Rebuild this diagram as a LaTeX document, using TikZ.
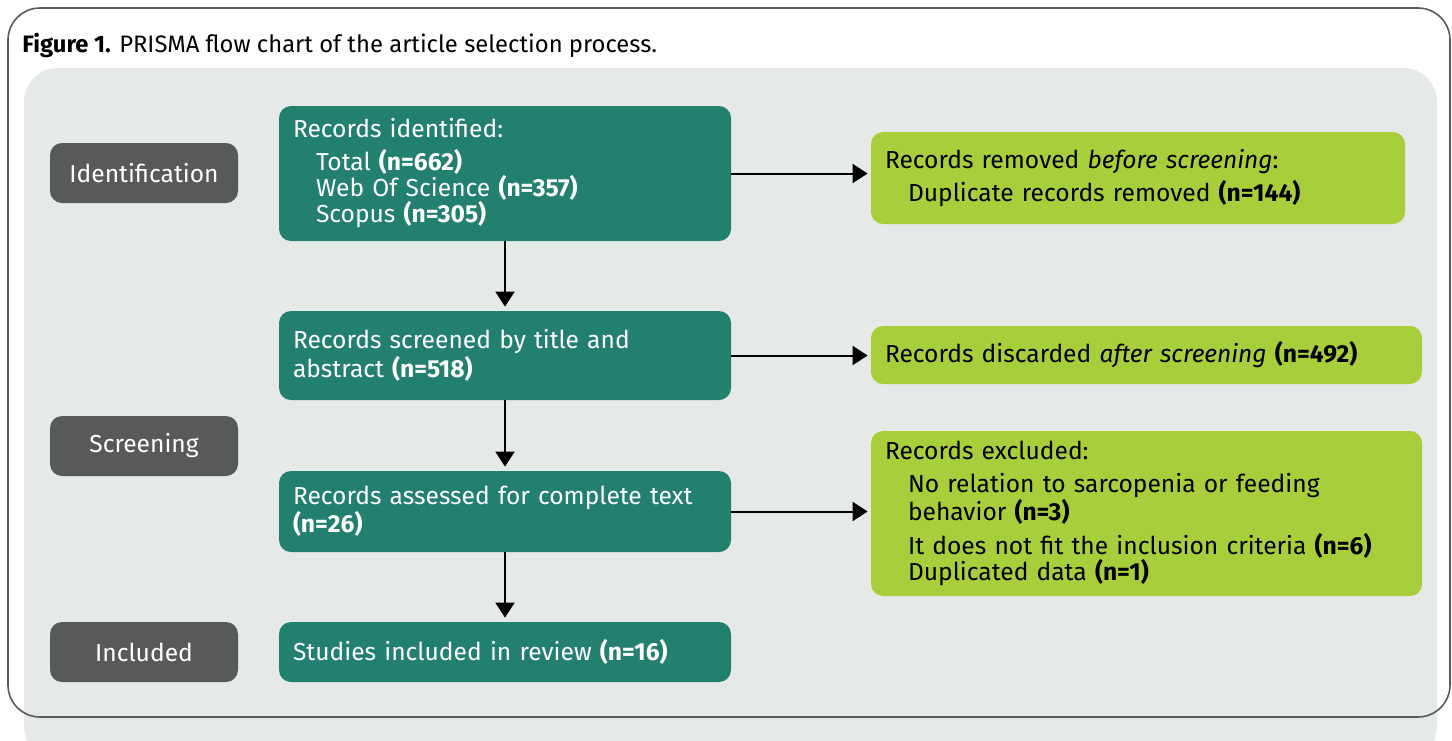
\documentclass[tikz,border=0pt]{standalone}
\usepackage{fontspec}
\setmainfont{Fira Sans}
\usetikzlibrary{arrows.meta}
\definecolor{panelgray}{HTML}{E5E9E8}
\definecolor{framegray}{HTML}{5A5A5A}
\definecolor{stagegray}{HTML}{58595B}
\definecolor{tealbox}{HTML}{23806F}
\definecolor{limebox}{HTML}{A8CE3B}
\begin{document}
\begin{tikzpicture}[x=0.5pt,y=-0.5pt,
        font=\fontsize{12.3}{13}\selectfont,
        stage/.style={fill=stagegray,text=white,rounded corners=6pt,minimum width=94pt,minimum height=30pt,inner sep=0pt},
        tealnode/.style={fill=tealbox,text=white,rounded corners=6pt,align=left,text width=212pt,inner xsep=7pt,inner ysep=0pt},
        limenode/.style={fill=limebox,text=black,rounded corners=6pt,align=left,inner xsep=7pt,inner ysep=0pt},
        flow/.style={-{Triangle[width=9.5pt,length=7.5pt]},line width=1pt}]
            \useasboundingbox (0,0) rectangle (1452,740);
            \begin{scope}
                \clip (0,0) rectangle (1452,740);
                \fill[panelgray,rounded corners=17pt] (24,68) rectangle (1437,760);
                \draw[framegray,line width=0.8pt,rounded corners=16pt] (8,8) rectangle (1450,717);
            \end{scope}

            \node[anchor=west,inner sep=0pt,font=\fontsize{11.9}{13}\selectfont] (title) at (22,45) {\textbf{Figure 1.} PRISMA flow chart of the article selection process.};

            \node[stage] (ident) at (144,173) {Identification};
            \node[stage] (screen) at (144,446) {Screening};
            \node[stage] (incl) at (144,652) {Included};

            \node[tealnode,minimum height=67.5pt] (rec) at (505,173.5) {Records identified:\\[3.5pt]
                \hspace*{11.5pt}Total \textbf{(n=662)}\\
                \hspace*{11.5pt}Web Of Science \textbf{(n=357)}\\
                \hspace*{11.5pt}Scopus \textbf{(n=305)}};
            \node[tealnode,minimum height=44.5pt] (scr) at (505,355.5) {Records screened by title and\\abstract \textbf{(n=518)}};
            \node[tealnode,minimum height=40.5pt] (full) at (505,511.5) {Records assessed for complete text\\\textbf{(n=26)}};
            \node[tealnode,minimum height=30pt] (stud) at (505,652) {Studies included in review \textbf{(n=16)}};

            \node[limenode,text width=253pt,minimum height=46pt] (rem) at (1138,178) {Records removed \textit{before screening}:\\[2pt]
                \hspace*{11.5pt}Duplicate records removed \textbf{(n=144)}};
            \node[limenode,text width=261.5pt,minimum height=29pt] (disc) at (1146.5,355) {Records discarded \textit{after screening} \textbf{(n=492)}};
            \node[limenode,text width=261.5pt,minimum height=82.5pt] (excl) at (1146.5,513.5) {Records excluded:\\[3.5pt]
                \hspace*{11.5pt}No relation to sarcopenia or feeding\\
                \hspace*{11.5pt}behavior \textbf{(n=3)}\\[4pt]
                \hspace*{11.5pt}It does not fit the inclusion criteria \textbf{(n=6)}\\
                \hspace*{11.5pt}Duplicated data \textbf{(n=1)}};

            \draw[flow,shorten >=2pt] (rec) -- (scr);
            \draw[flow,shorten >=2pt] (scr) -- (full);
            \draw[flow,shorten >=2pt] (full) -- (stud);
            \draw[flow,shorten >=1.5pt] (rec.east) -- (rec.east -| rem.west);
            \draw[flow,shorten >=1.5pt] (scr.east) -- (scr.east -| disc.west);
            \draw[flow,shorten >=1.5pt] (full.east) -- (full.east -| excl.west);
        \end{tikzpicture}
\end{document}
